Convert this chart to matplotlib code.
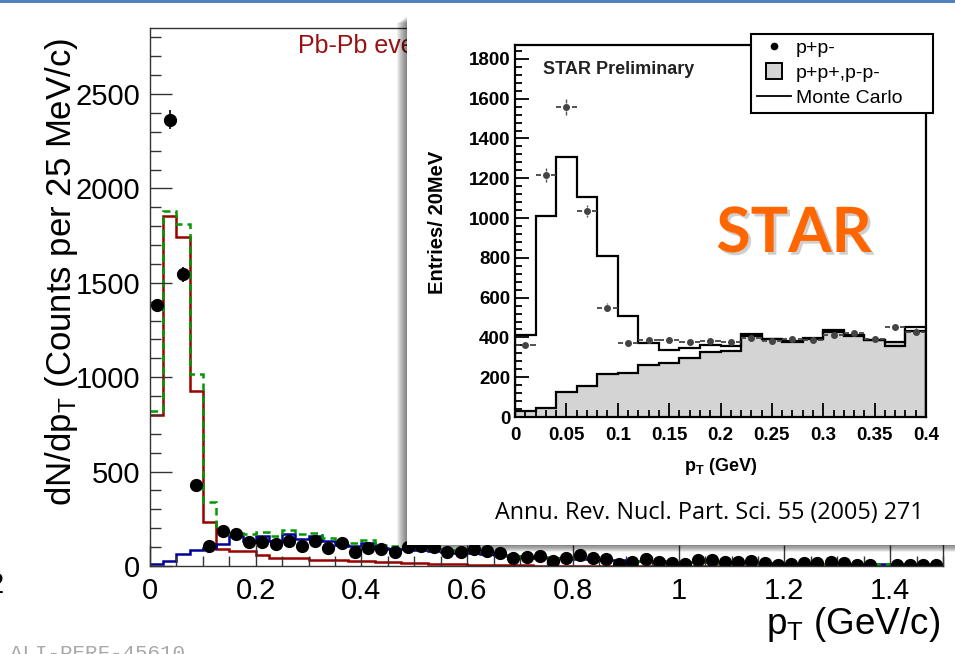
import numpy as np
import matplotlib.pyplot as plt
from matplotlib.patches import Rectangle
from matplotlib.lines import Line2D
from matplotlib.ticker import MultipleLocator, FuncFormatter
import matplotlib.patheffects as pe

plt.rcParams['font.family'] = ['Liberation Sans', 'DejaVu Sans']
plt.rcParams['mathtext.fontset'] = 'custom'
plt.rcParams['mathtext.rm'] = 'Liberation Sans'
plt.rcParams['mathtext.bf'] = 'Liberation Sans:bold'
plt.rcParams['mathtext.it'] = 'Liberation Sans:italic'

# ---- main (ALICE) histogram data, 25 MeV bins from 0 to 1.5 GeV/c ----
main_edges = np.arange(61) * 0.025
main_counts = [1380, 2365, 1545, 430, 105, 185, 170, 128, 128, 119,
               133, 106, 133, 97, 121, 76, 97, 89, 74, 100,
               106, 103, 76, 76, 88, 81, 71, 41, 46, 53,
               28, 41, 58, 41, 35, 11, 23, 35, 23, 14,
               11, 32, 32, 23, 23, 28, 18, 5, 11, 14,
               18, 23, 14, 5, 5, np.nan, 3, 5, 5, 3]
main_err = [37, 49, 39, 21, 10, 14, 13, 11, 11, 11,
            12, 10, 12, 10, 11, 9, 10, 9, 9, 10,
            10, 10, 9, 9, 9, 9, 8, 6, 7, 7,
            5, 6, 8, 6, 6, 3, 5, 6, 5, 4,
            3, 6, 6, 5, 5, 5, 4, 2, 3, 4,
            4, 5, 4, 2, 2, 0, 2, 2, 2, 2]
red_hist = [800, 1855, 1745, 925, 234, 90, 78, 82, 60, 44,
            41, 41, 32, 30, 30, 26, 24, 22, 20, 18,
            15, 12, 10, 8, 6, 5, 4, 3, 3, 2,
            2, 2, 1, 1, 1, 1, 1, 1, 0, 0,
            0, 0, 0, 0, 0, 0, 0, 0, 0, 0,
            0, 0, 0, 0, 0, 0, 0, 0, 0, 0]
blue_hist = [12, 27, 64, 83, 97, 119, 159, 133, 159, 133,
             168, 142, 159, 133, 110, 105, 124, 95, 90, 88,
             85, 80, 75, 70, 68, 63, 58, 52, 48, 45,
             42, 40, 37, 35, 32, 30, 28, 26, 24, 22,
             21, 20, 19, 18, 17, 16, 15, 14, 13, 13,
             12, 12, 11, 11, 10, 10, 9, 9, 8, 8]
green_hist = [820, 1882, 1810, 1015, 340, 183, 175, 170, 178, 160,
              190, 168, 175, 150, 128, 120, 138, 110, 105, 102,
              98, 90, 84, 77, 73, 67, 61, 54, 50, 47,
              44, 42, 38, 36, 33, 31, 29, 27, 24, 22,
              21, 20, 19, 18, 17, 16, 15, 14, 13, 13,
              12, 12, 11, 11, 10, 10, 9, 9, 8, 8]
main_xticks = [0, 0.2, 0.4, 0.6, 0.8, 1.0, 1.2, 1.4]
main_yticks = [0, 500, 1000, 1500, 2000, 2500]

# ---- inset (STAR) data, 20 MeV bins from 0 to 0.4 GeV ----
inset_edges = np.arange(21) * 0.02
inset_mc = [410, 1010, 1305, 1105, 810, 510, 370, 335, 345, 360,
            355, 417, 393, 376, 397, 436, 405, 388, 357, 451]
inset_like = [28, 43, 127, 157, 217, 220, 262, 272, 295, 325,
              333, 407, 390, 380, 390, 428, 410, 385, 375, 431]
inset_pts = [360, 1215, 1560, 1035, 550, 370, 385, 385, 378, 382,
             378, 395, 383, 393, 388, 414, 423, 393, 452, 429]
inset_err = [19, 35, 40, 32, 23, 19, 20, 20, 19, 20,
             19, 20, 20, 20, 20, 20, 21, 20, 21, 21]
inset_xticks = [0, 0.05, 0.1, 0.15, 0.2, 0.25, 0.3, 0.35, 0.4]
inset_yticks = [0, 200, 400, 600, 800, 1000, 1200, 1400, 1600, 1800]
legend_labels = ['p+p-', 'p+p+,p-p-', 'Monte Carlo']

W, H = 955, 654
fig = plt.figure(figsize=(W / 100, H / 100), dpi=100)


def fx(px):
    return px / W


def fy(py):
    return 1 - py / H


# ---------------- main plot ----------------
ax = fig.add_axes([fx(150), fy(566), fx(943) - fx(150), fy(28) - fy(566)], zorder=0)
centers = (main_edges[:-1] + main_edges[1:]) / 2
ax.stairs(red_hist, main_edges, color='#990000', lw=1.8, baseline=None)
ax.stairs(blue_hist, main_edges, color='#000099', lw=1.8, baseline=None)
ax.stairs(green_hist, main_edges, color='#009900', lw=1.8, ls=(0, (3, 2)), baseline=None)
ax.errorbar(centers, main_counts, yerr=main_err, fmt='o', color='black',
            ms=8.5, elinewidth=1.2, capsize=0)

ax.set_xlim(0, 1.5)
ax.set_ylim(0, 2850)
ax.set_xticks(main_xticks)
ax.set_yticks(main_yticks)
ax.xaxis.set_minor_locator(MultipleLocator(0.05))
ax.yaxis.set_minor_locator(MultipleLocator(100))
ax.xaxis.set_major_formatter(FuncFormatter(lambda v, p: f'{v:g}'))
ax.tick_params(which='both', direction='in', top=False, right=False,
               labelsize=21, color='#333333', width=1)
ax.tick_params(axis='y', which='major', length=16, pad=7)
ax.tick_params(axis='y', which='minor', length=8)
ax.tick_params(axis='x', which='major', length=15, pad=8)
ax.tick_params(axis='x', which='minor', length=7)
for s in ax.spines.values():
    s.set_color('#333333')
    s.set_linewidth(1)

ax.set_ylabel(r'dN/dp$_{\mathrm{T}}$ (Counts per 25 MeV/c)', fontsize=25)
ax.yaxis.set_label_coords(-0.088, 0.546)
ax.set_xlabel(r'p$_{\mathrm{T}}$ (GeV/c)', fontsize=26.5, ha='right')
ax.xaxis.set_label_coords(0.996, -0.072)

fig.text(fx(298), fy(53), 'Pb-Pb events', color='#991111', fontsize=18,
         va='baseline', zorder=1)
fig.text(fx(4), fy(585), '2', fontsize=21, ha='right', va='center', zorder=1)
fig.text(fx(10), fy(644), 'ALI-PERF-45610', fontsize=15, color='#a8a8a8',
         family='Liberation Mono', va='top', zorder=1)

# ---------------- inset panel with shadow ----------------
x0, y0 = fx(407), fy(545)
pw, ph = 1.02 - x0, fy(12) - fy(545)
for k in range(10):
    fig.patches.append(Rectangle((x0 - fx(k + 1), y0 - (k + 1) * 0.7 / H), pw, ph - 4 / H,
                                 transform=fig.transFigure, facecolor='black',
                                 edgecolor='none', alpha=0.06, zorder=1.5))
fig.patches.append(Rectangle((x0, y0), pw, ph, transform=fig.transFigure,
                             facecolor='white', edgecolor='none', zorder=2))

# ---------------- inset plot ----------------
ax2 = fig.add_axes([fx(515), fy(417), fx(926) - fx(515), fy(45) - fy(417)], zorder=3)
ax2.stairs(inset_like, inset_edges, fill=True, color='#d4d4d4')
ax2.stairs(inset_like, inset_edges, color='black', lw=1.6)
ax2.stairs(inset_mc, inset_edges, color='black', lw=1.6)

ipt = (inset_edges[:-1] + inset_edges[1:]) / 2
ipts = np.array(inset_pts, dtype=float)
ierr = np.array(inset_err, dtype=float)
gap_x, gap_y = 0.005, 20
ax2.hlines(ipts, ipt - 0.01, ipt - gap_x, color='#444444', lw=1.3)
ax2.hlines(ipts, ipt + gap_x, ipt + 0.01, color='#444444', lw=1.3)
big = ierr > gap_y
ax2.vlines(ipt[big], ipts[big] + gap_y, ipts[big] + ierr[big], color='#555555', lw=1.0)
ax2.vlines(ipt[big], ipts[big] - ierr[big], ipts[big] - gap_y, color='#555555', lw=1.0)
ax2.plot(ipt, ipts, 'o', ms=4, color='#444444')

ax2.set_xlim(0, 0.4)
ax2.set_ylim(0, 1870)
ax2.set_xticks(inset_xticks, [f'{v:g}' for v in inset_xticks], fontweight='bold', fontsize=13.5)
ax2.set_yticks(inset_yticks, [str(v) for v in inset_yticks], fontweight='bold', fontsize=13.5)
ax2.xaxis.set_minor_locator(MultipleLocator(0.01))
ax2.yaxis.set_minor_locator(MultipleLocator(40))
ax2.tick_params(which='both', direction='in', top=False, right=False, width=1.3)
ax2.tick_params(which='major', length=10)
ax2.tick_params(which='minor', length=5)
ax2.tick_params(axis='x', pad=7)
ax2.tick_params(axis='y', pad=3.5)
for s in ax2.spines.values():
    s.set_linewidth(1.6)

ax2.set_xlabel(r'$\mathbf{p_{T}}$ (GeV)', fontsize=13, fontweight='bold')
ax2.xaxis.set_label_coords(0.5, -0.105)
ax2.set_ylabel('Entries/ 20MeV', fontsize=14.5, fontweight='bold')
ax2.yaxis.set_label_coords(-0.165, 0.524)
ax2.text(0.068, 0.933, 'STAR Preliminary', transform=ax2.transAxes,
         fontsize=13, fontweight='bold', va='center', color='#222222')

handles = [Line2D([], [], ls='none', marker='o', ms=4.5, color='black'),
           Line2D([], [], ls='none', marker='s', ms=12, mfc='#d4d4d4', mec='black', mew=1.4),
           Line2D([], [], color='black', lw=1.3)]
leg = ax2.legend(handles, legend_labels, loc='upper left',
                 bbox_to_anchor=(0.574, 0.825, 0.443, 0.205), mode='expand',
                 fontsize=14, frameon=True, fancybox=False, borderpad=0.3,
                 labelspacing=0.38, handlelength=1.75, handletextpad=0.25,
                 borderaxespad=0, framealpha=1)
leg.get_frame().set_edgecolor('black')
leg.get_frame().set_linewidth(1.5)

# ---------------- overlay texts ----------------
fig.text(fx(794), fy(252), 'STAR', family='Lato', fontweight='bold', fontsize=45,
         color='#ff6600', ha='center', va='baseline', zorder=6,
         path_effects=[pe.withSimplePatchShadow(offset=(2, -2), shadow_rgbFace='#777777', alpha=0.35)])
fig.text(fx(495), fy(519), 'Annu. Rev. Nucl. Part. Sci. 55 (2005) 271', family='Open Sans',
         fontsize=16.8, va='baseline', color='black', zorder=6)

fig.patches.append(Rectangle((0, fy(3)), 1, 3 / H, transform=fig.transFigure,
                             facecolor='#4f81bd', edgecolor='none', zorder=10))

fig.savefig('out.png', dpi=100)
